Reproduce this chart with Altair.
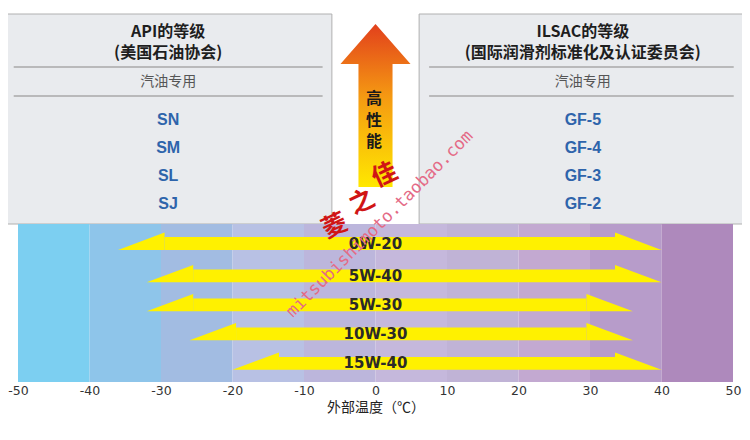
import altair as alt
import pandas as pd

# ---------------- data ----------------
BLOCK_START = [-50, -40, -30, -20, -10, 0, 10, 20, 30, 40]
BLOCK_COLORS = ["#7ccff1", "#8ec5ea", "#a2bce2", "#b8c1e4", "#bcb6dc",
                "#c5b8dc", "#c0b3d6", "#c3a9d1", "#b79cca", "#ae89bc"]
GRADES = ["0W-20", "5W-40", "5W-30", "10W-30", "15W-40"]
LOW = [-36, -32, -32, -26, -20]
HIGH = [40, 40, 36, 36, 40]
API = ["SN", "SM", "SL", "SJ"]
ILSAC = ["GF-5", "GF-4", "GF-3", "GF-2"]
TICKS = [-50, -40, -30, -20, -10, 0, 10, 20, 30, 40, 50]
PERF = ["高", "性", "能"]

# ---------------- layout (screen rows measured from top of plot) ----------------
OFF = 8
def Y(p):
    return p - OFF

BAND_TOP, BAND_BOT = Y(224), Y(382)
ROW_Y = [Y(243.5), Y(275.8), Y(304.8), Y(333.8), Y(363.3)]
HEAD = 6.5          # arrow head length in degrees
HALF = 6.4          # shaft half thickness (px)
RISE = 4.5          # head rises above shaft (px)

W, H = 715, 374
XS = alt.Scale(domain=[-50, 50], nice=False, zero=False)
YS = alt.Scale(domain=[0, H], reverse=True, nice=False, zero=False)
XA = alt.Axis(values=TICKS, title="外部温度（℃）", grid=False, ticks=False, domain=False,
              labelExpr="datum.value < 0 ? '-' + abs(datum.value) : '' + datum.value",
              labelFont="DejaVu Sans", labelFontSize=12.5, labelColor="#333333",
              labelPadding=2, titleFont="Noto Sans CJK SC", titleFontSize=14,
              titleFontWeight="normal", titleColor="#222222", titlePadding=4,
              labelFlush=False)

def X(f="x"):
    return alt.X(f"{f}:Q", scale=XS, axis=XA)

def YY(f="y"):
    return alt.Y(f"{f}:Q", scale=YS, axis=None, stack=None)

# ---------------- panels ----------------
boxes = pd.DataFrame({"x": [-51.8, 6.1], "x2": [-6.1, 51.6],
                      "y": [Y(14), Y(14)], "y2": [BAND_TOP, BAND_TOP]})
box_layer = alt.Chart(boxes).mark_rect(fill="#e9ebee", stroke="#b0b0b0", strokeWidth=1).encode(
    x=X(), x2="x2:Q", y=YY(), y2="y2:Q")

seps = pd.DataFrame({"x": [-50.6, -50.6, 7.5, 7.5], "x2": [-7.4, -7.4, 50.1, 50.1],
                     "y": [Y(67), Y(96), Y(67), Y(96)]})
sep_layer = alt.Chart(seps).mark_rule(color="#a8a8a8", strokeWidth=1.5).encode(
    x=X(), x2="x2:Q", y=YY())

titles = pd.DataFrame({"x": [-29, -29, 29, 29],
                       "y": [Y(31.5), Y(52.5), Y(31.5), Y(52.5)],
                       "t": ["API的等级", "(美国石油协会)", "ILSAC的等级", "(国际润滑剂标准化及认证委员会)"]})
title_layer = alt.Chart(titles).mark_text(font="Noto Sans CJK SC", fontSize=16, fontWeight="bold",
                                          color="#1e1e1e", baseline="middle").encode(
    x=X(), y=YY(), text="t:N")

sub = pd.DataFrame({"x": [-29, 29], "y": [Y(82), Y(82)], "t": ["汽油专用", "汽油专用"]})
sub_layer = alt.Chart(sub).mark_text(font="Noto Sans CJK SC", fontSize=14, color="#555555",
                                     baseline="middle").encode(x=X(), y=YY(), text="t:N")

GRADE_Y = [Y(120), Y(148), Y(176), Y(204)]
grades_df = pd.DataFrame({"x": [-29] * 4 + [29] * 4, "y": GRADE_Y + GRADE_Y, "t": API + ILSAC})
grade_layer = alt.Chart(grades_df).mark_text(font="Liberation Sans", fontSize=16, fontWeight="bold",
                                             color="#2e64ab", baseline="middle").encode(
    x=X(), y=YY(), text="t:N")

# ---------------- center arrow ----------------
ARROW_PATH = ("M0,-1 L0.43,-0.509 L0.209,-0.509 L0.209,1 L-0.209,1 "
              "L-0.209,-0.509 L-0.43,-0.509 Z")
grad = alt.LinearGradient(gradient="linear", x1=0, y1=0, x2=0, y2=1,
                          stops=[alt.GradientStop(offset=0, color="#e2401c"),
                                 alt.GradientStop(offset=0.45, color="#f59a12"),
                                 alt.GradientStop(offset=1, color="#ffe800")])
up = pd.DataFrame({"x": [0], "y": [Y(105.5)]})
up_layer = alt.Chart(up).mark_point(shape=ARROW_PATH, size=163 ** 2, filled=True, fill=grad,
                                    strokeWidth=0, opacity=1).encode(x=X(), y=YY())

perf = pd.DataFrame({"x": [-0.2] * 3, "y": [Y(99), Y(120.5), Y(142)], "t": PERF})
perf_layer = alt.Chart(perf).mark_text(font="Noto Sans CJK SC", fontSize=16, fontWeight="bold",
                                       color="#1a1a1a", baseline="middle").encode(
    x=X(), y=YY(), text="t:N")

# ---------------- band ----------------
band = pd.DataFrame({"x": BLOCK_START, "x2": [s + 10 for s in BLOCK_START],
                     "y": [BAND_TOP] * 10, "y2": [BAND_BOT] * 10, "c": BLOCK_COLORS})
band_layer = alt.Chart(band).mark_rect().encode(
    x=X(), x2="x2:Q", y=YY(), y2="y2:Q", color=alt.Color("c:N", scale=None))

# ---------------- oil grade arrows (shaft + two half-barbed heads) ----------------
shaft = pd.DataFrame({"x": [lo + HEAD for lo in LOW], "x2": [hi - HEAD for hi in HIGH],
                      "y": [c - HALF for c in ROW_Y], "y2": [c + HALF for c in ROW_Y], "g": GRADES})
shaft_layer = alt.Chart(shaft).mark_rect(color="#fff100").encode(
    x=X(), x2="x2:Q", y=YY(), y2="y2:Q")

HEAD_PX = HEAD * W / 100.0
HEAD_H = 2 * HALF + RISE
hh = HEAD_H / HEAD_PX   # half-height fraction of the [-1,1] square
RIGHT_HEAD = f"M-1,{-hh:.4f} L1,{hh:.4f} L-1,{hh:.4f} Z"
LEFT_HEAD = f"M1,{-hh:.4f} L1,{hh:.4f} L-1,{hh:.4f} Z"
heads_r = pd.DataFrame({"x": [hi - HEAD / 2 for hi in HIGH],
                        "y": [c + HALF - HEAD_H / 2 for c in ROW_Y]})
heads_l = pd.DataFrame({"x": [lo + HEAD / 2 for lo in LOW],
                        "y": [c + HALF - HEAD_H / 2 for c in ROW_Y]})
hr_layer = alt.Chart(heads_r).mark_point(shape=RIGHT_HEAD, size=HEAD_PX ** 2, filled=True,
                                         fill="#fff100", strokeWidth=0, opacity=1).encode(
    x=X(), y=YY())
hl_layer = alt.Chart(heads_l).mark_point(shape=LEFT_HEAD, size=HEAD_PX ** 2, filled=True,
                                         fill="#fff100", strokeWidth=0, opacity=1).encode(
    x=X(), y=YY())

lab = pd.DataFrame({"x": [0] * 5, "y": ROW_Y, "t": GRADES})
lab_layer = alt.Chart(lab).mark_text(font="DejaVu Sans", fontSize=15, fontWeight="bold",
                                     color="#2a2a2a", baseline="middle").encode(
    x=X(), y=YY(), text="t:N")

# ---------------- watermark ----------------
wm = pd.DataFrame({"x": [0.6], "y": [Y(224)], "t": ["mitsubishimoto.taobao.com"]})
wm_layer = alt.Chart(wm).mark_text(font="DejaVu Sans Mono", fontSize=17, angle=315,
                                   color="#e46a86", baseline="middle").encode(
    x=X(), y=YY(), text="t:N")

cal = pd.DataFrame({"x": [1.3, -1.9, -5.7], "y": [Y(175), Y(202), Y(226)], "t": ["佳", "之", "菱"]})
cal_layer = alt.Chart(cal).mark_text(font="Noto Sans CJK SC", fontSize=25, fontWeight="bold",
                                     angle=335, color="#d01515", baseline="middle").encode(
    x=X(), y=YY(), text="t:N")

chart = alt.layer(
    box_layer, sep_layer, title_layer, sub_layer, grade_layer,
    band_layer, shaft_layer, hr_layer, hl_layer, lab_layer, up_layer, perf_layer,
    cal_layer, wm_layer
).properties(
    width=W, height=H,
    autosize=alt.AutoSizeParams(type="none"),
    padding={"left": 10, "top": 0, "right": 9, "bottom": 50},
    background="white",
).configure_view(stroke=None)

chart.save("out.html", embed_options={"renderer": "svg", "actions": False})
